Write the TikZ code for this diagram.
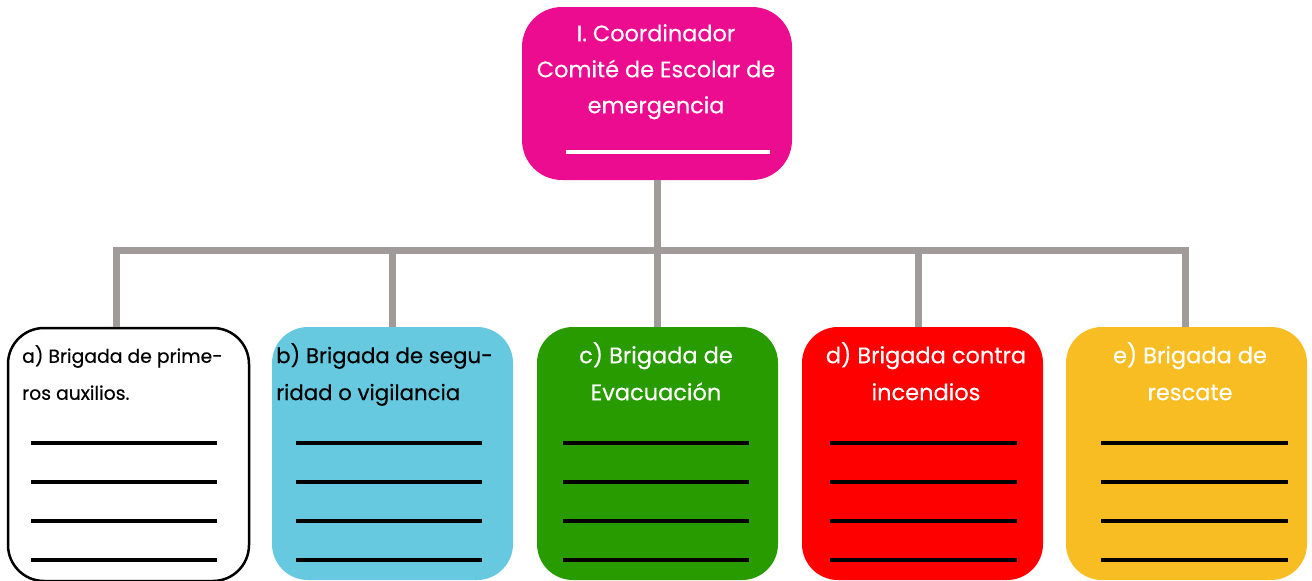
\documentclass[tikz,border=0pt]{standalone}
\usepackage{fontspec}
\setmainfont{Poppins}[FakeBold=0.35]
\definecolor{cmag}{HTML}{EC0C8F}
\definecolor{ccyan}{HTML}{66C9DF}
\definecolor{cgreen}{HTML}{289B00}
\definecolor{cred}{HTML}{FF0000}
\definecolor{cyel}{HTML}{F8BD22}
\definecolor{cgray}{HTML}{A09A98}
\begin{document}
\begin{tikzpicture}[x=1pt,y=-1pt,
  box/.style={rounded corners=36pt,minimum width=241pt,minimum height=253pt,inner sep=0pt,outer sep=0pt,anchor=north west},
  conn/.style={draw=cgray,line width=7pt},
  fillline/.style={line width=3.3pt,black},
  wtxt/.style={text=white,align=center,font=\fontsize{22.5}{37}\selectfont,anchor=north,inner sep=0pt},
  btxt/.style={text=black,align=left,font=\fontsize{21.3}{37}\selectfont,anchor=north west,inner sep=0pt}]
\useasboundingbox (0,0) rectangle (1312,581);
% top box
\node[rounded corners=40pt,fill=cmag,minimum width=270pt,minimum height=173pt,inner sep=0pt,outer sep=0pt,anchor=north west] (top) at (522,7) {};
\node[wtxt,font=\fontsize{22.4}{36}\selectfont] (toptxt) at (656,24) {I. Coordinador\\Comité de Escolar de\\emergencia};
\coordinate (tl1) at (566,152);
\coordinate (tl2) at (770,152);
\draw[white,line width=3.2pt] (tl1) -- (tl2);
% boxes
\node[box,fill=white,draw=black,line width=2.5pt] (ba) at (8,328) {};
\node[box,fill=ccyan] (bb) at (272,327) {};
\node[box,fill=cgreen] (bc) at (537,327) {};
\node[box,fill=cred] (bd) at (802,327) {};
\node[box,fill=cyel] (be) at (1066,327) {};
% connectors
\coordinate (bar) at (657,250);
\coordinate (aTop) at (116,327);
\coordinate (dTop) at (918,327);
\coordinate (eTop) at (1185.5,327);
\draw[conn] (top.south) -- (bar);
\draw[conn] (aTop) |- (bar) -| (eTop);
\draw[conn] (bb.north) -- (bb.north |- bar);
\draw[conn] (bc.north) -- (bc.north |- bar);
\draw[conn] (dTop) -- (dTop |- bar);
% texts
\node[btxt,font=\fontsize{18.8}{37}\selectfont] (ta) at (22,345) {a) Brigada de prime-\\ros auxilios.};
\node[btxt] (tb) at (276,343) {b) Brigada de segu-\\ridad o vigilancia};
\node[wtxt] (tc) at (656,342) {c) Brigada de\\Evacuación};
\node[wtxt] (td) at (926,342) {d) Brigada contra\\incendios};
\node[wtxt] (te) at (1190,342) {e) Brigada de\\rescate};
% fill-in lines
\foreach \b/\l/\r in {ba/31/217, bb/296/482, bc/563/749, bd/830/1017, be/1101/1288}{
  \foreach \yy in {443,482,521,560}{
    \draw[fillline] (\l,\yy) -- (\r,\yy);
  }
}
\end{tikzpicture}
\end{document}
